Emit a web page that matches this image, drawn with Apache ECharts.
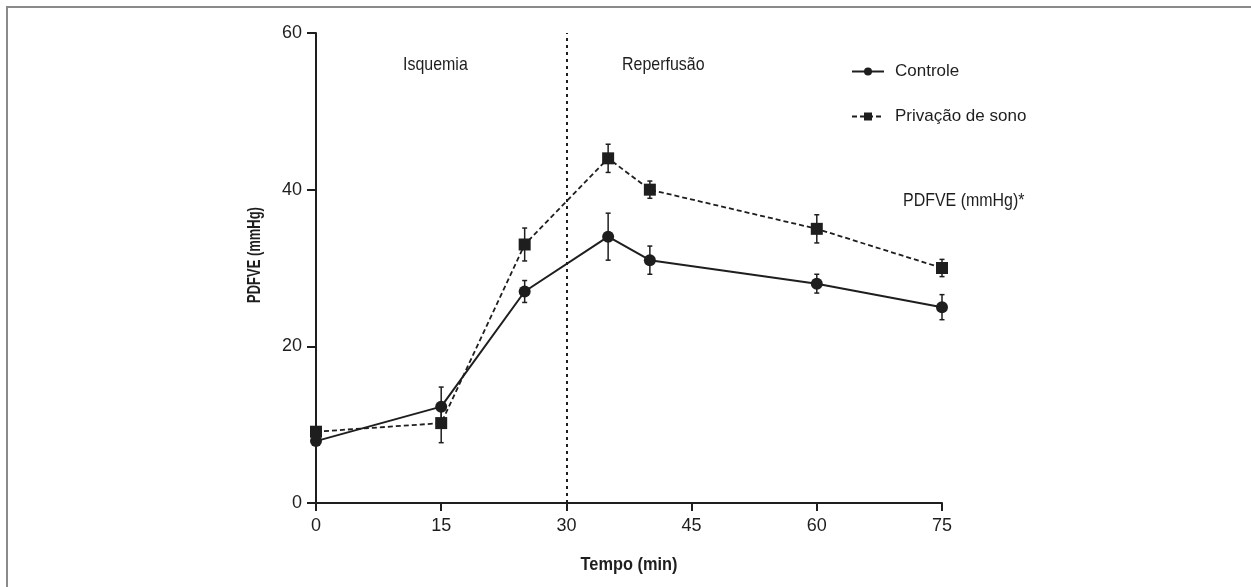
<!DOCTYPE html>
<html>
<head>
<meta charset="utf-8">
<title>PDFVE</title>
<script src="https://cdn.jsdelivr.net/npm/echarts@6/dist/echarts.min.js"></script>
<style>
  html, body { margin: 0; padding: 0; background: #fff; }
  #chart { width: 1251px; height: 587px; }
</style>
</head>
<body>
<div id="chart"></div>
<script>
// tempo (min) e valores
const tempo = [0, 15, 25, 35, 40, 60, 75];
const controle = [7.9, 12.3, 27, 34, 31, 28, 25];
const controleErro = [0, 2.5, 1.4, 3, 1.8, 1.2, 1.6];
const privacao = [9.1, 10.2, 33, 44, 40, 35, 30];
const privacaoErro = [0, 2.5, 2.1, 1.8, 1.1, 1.8, 1.1];
const xTicks = [0, 15, 30, 45, 60, 75];

const FONT = "'Liberation Sans', Arial, sans-serif";
const INK = '#1e1e1e';
const NARROW = 0.84; // fonte original é condensada

const chart = echarts.init(document.getElementById('chart'));

// barras de erro (linha vertical + pequenos traços)
function errorBars(values, errors) {
  return tempo.map((t, i) => [t, values[i] - errors[i], values[i] + errors[i]]);
}

function renderErrorBar(params, api) {
  const x = api.value(0);
  const lo = api.coord([x, api.value(1)]);
  const hi = api.coord([x, api.value(2)]);
  if (Math.abs(hi[1] - lo[1]) < 1) return null;
  const cap = 2.5;
  const style = { stroke: INK, lineWidth: 1.5 };
  return {
    type: 'group',
    children: [
      { type: 'line', shape: { x1: lo[0], y1: lo[1], x2: hi[0], y2: hi[1] }, style: style },
      { type: 'line', shape: { x1: lo[0] - cap, y1: lo[1], x2: lo[0] + cap, y2: lo[1] }, style: style },
      { type: 'line', shape: { x1: hi[0] - cap, y1: hi[1], x2: hi[0] + cap, y2: hi[1] }, style: style }
    ]
  };
}

// texto solto com a largura reduzida
function label(text, x, y, opts) {
  opts = opts || {};
  return {
    type: 'text',
    x: x, y: y,
    scaleX: opts.scale || NARROW,
    rotation: opts.rotation || 0,
    silent: true,
    style: {
      text: text,
      font: (opts.weight || 'normal') + ' ' + (opts.size || 19) + 'px ' + FONT,
      fill: INK,
      align: opts.align || 'left',
      verticalAlign: 'middle'
    }
  };
}

const option = {
  backgroundColor: '#fff',
  animation: false,
  textStyle: { fontFamily: FONT, color: INK },
  grid: { left: 316, right: 309, top: 33, bottom: 84 },
  legend: {
    orient: 'vertical',
    left: 846,
    top: 58,
    itemWidth: 32,
    itemHeight: 10,
    itemGap: 28,
    textStyle: { fontFamily: FONT, fontSize: 17, color: INK, padding: [0, 0, 0, 6] },
    data: ['Controle', 'Privação de sono']
  },
  xAxis: {
    type: 'value',
    min: 0,
    max: 75,
    interval: 15,
    splitLine: { show: false },
    axisLine: { lineStyle: { color: INK, width: 2 } },
    axisTick: { length: 8, lineStyle: { color: INK, width: 2 } },
    axisLabel: {
      margin: 14, fontSize: 18, color: INK, fontFamily: FONT,
      customValues: xTicks
    }
  },
  yAxis: {
    type: 'value',
    min: 0,
    max: 60,
    interval: 20,
    splitLine: { show: false },
    axisLine: { show: true, lineStyle: { color: INK, width: 2 } },
    axisTick: { show: true, length: 9, lineStyle: { color: INK, width: 2 } },
    axisLabel: { margin: 14, fontSize: 18, color: INK, fontFamily: FONT }
  },
  graphic: [
    {
      type: 'rect', silent: true,
      shape: { x: 7, y: 7, width: 1400, height: 700 },
      style: { fill: 'none', stroke: '#8a8a8a', lineWidth: 2 }
    },
    label('Isquemia', 403, 65),
    label('Reperfusão', 622, 65),
    label('PDFVE (mmHg)*', 903, 201),
    label('Tempo (min)', 629, 565, { weight: 'bold', size: 19, align: 'center', scale: 0.86 }),
    label('PDFVE (mmHg)', 255, 255, { weight: 'bold', size: 18, align: 'center', scale: 0.72, rotation: Math.PI / 2 })
  ],
  series: [
    {
      name: 'Controle',
      type: 'line',
      data: tempo.map((t, i) => [t, controle[i]]),
      symbol: 'circle',
      symbolSize: 12,
      itemStyle: { color: INK },
      lineStyle: { color: INK, width: 2, type: 'solid' },
      z: 3,
      markLine: {
        silent: true,
        symbol: 'none',
        label: { show: false },
        lineStyle: { color: INK, width: 2, type: [3, 4] },
        data: [{ xAxis: 30 }]
      }
    },
    {
      name: 'Privação de sono',
      type: 'line',
      data: tempo.map((t, i) => [t, privacao[i]]),
      symbol: 'rect',
      symbolSize: 12,
      itemStyle: { color: INK },
      lineStyle: { color: INK, width: 1.8, type: [5, 3] },
      z: 3
    },
    {
      name: 'erroControle',
      type: 'custom',
      renderItem: renderErrorBar,
      data: errorBars(controle, controleErro),
      z: 2
    },
    {
      name: 'erroPrivacao',
      type: 'custom',
      renderItem: renderErrorBar,
      data: errorBars(privacao, privacaoErro),
      z: 2
    }
  ]
};

chart.setOption(option);
window.addEventListener('resize', () => chart.resize());
</script>
</body>
</html>
